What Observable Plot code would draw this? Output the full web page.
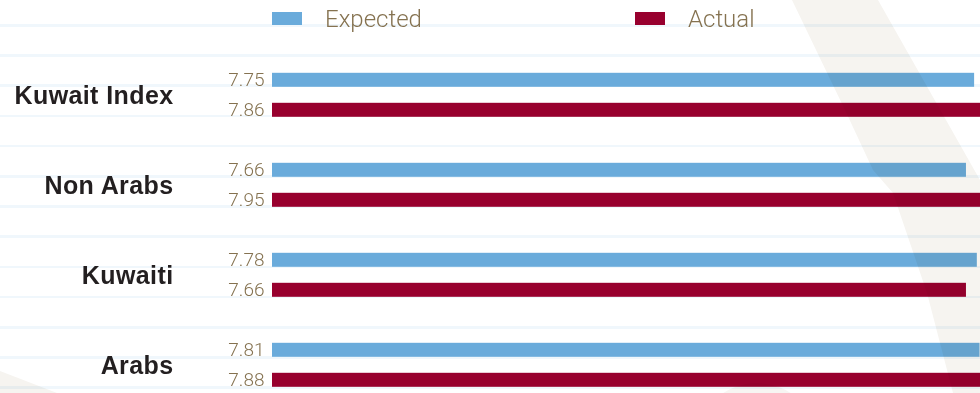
<!DOCTYPE html>
<html>
<head>
<meta charset="utf-8">
<script src="https://cdn.jsdelivr.net/npm/d3@7"></script>
<script src="https://cdn.jsdelivr.net/npm/@observablehq/plot@0.6"></script>
<style>
  html, body { margin: 0; padding: 0; background: #fff; }
  #wrap {
    position: relative; width: 980px; height: 393px; overflow: hidden;
    background-color: #fff;
    background-image: repeating-linear-gradient(to bottom,
      transparent 0px, transparent 24px, #f0f7fc 24px, #f0f7fc 26.5px, transparent 26.5px, transparent 30.2px);
  }
  #legend { position: relative; height: 40px; font-family: Roboto, "Liberation Sans", sans-serif; font-weight: 300; font-size: 24px; color: #857250; }
  #legend .sw { position: absolute; top: 12px; width: 30px; height: 13px; }
  #legend .lb { position: absolute; top: 5px; line-height: 28px; }
  #deco { position: absolute; left: 0; top: 0; pointer-events: none; mix-blend-mode: multiply; }
</style>
</head>
<body>
<div id="wrap">
  <div id="legend"></div>
  <div id="chart"></div>
  <svg id="deco" width="980" height="393">
    <polygon points="792,0 830,79 845,110 873,170 893,193 927,293 953,393 980,393 980,180 878,0" fill="#f6f4f0"/>
    <polygon points="0,371 57,393 0,393" fill="#f6f4f0"/>
    <circle cx="757" cy="445" r="62" fill="#f7f5f2"/>
  </svg>
</div>
<script>
const categories = ["Kuwait Index", "Non Arabs", "Kuwaiti", "Arabs"];
const series = ["Expected", "Actual"];
const expectedValues = [7.75, 7.66, 7.78, 7.81];
const actualValues = [7.86, 7.95, 7.66, 7.88];
const colors = ["#6aabdb", "#98002e"];

const data = categories.flatMap((c, i) => [
  {category: c, series: "Expected", value: expectedValues[i]},
  {category: c, series: "Actual", value: actualValues[i]}
]);

// legend
const legend = document.getElementById("legend");
const legendX = [272, 635];
series.forEach((s, i) => {
  const sw = document.createElement("div");
  sw.className = "sw"; sw.style.left = legendX[i] + "px"; sw.style.background = colors[i];
  legend.appendChild(sw);
  const lb = document.createElement("div");
  lb.className = "lb"; lb.style.left = (legendX[i] + 53) + "px"; lb.textContent = s;
  legend.appendChild(lb);
});

const chart = Plot.plot({
  width: 980,
  height: 353,
  marginLeft: 272,
  marginRight: 0,
  marginTop: 9.2,
  marginBottom: -18.6,
  style: {background: "transparent", overflow: "hidden"},
  x: {domain: [0, 7.815], axis: null},
  fy: {domain: categories, padding: 0, axis: null},
  y: {domain: series, paddingInner: 0.53, paddingOuter: 0.72, axis: null},
  color: {domain: series, range: colors},
  marks: [
    Plot.barX(data, {x: "value", y: "series", fy: "category", fill: "series", clip: true}),
    Plot.text(data, {
      y: "series", fy: "category", frameAnchor: "left", dx: -8, textAnchor: "end",
      text: d => d.value.toFixed(2), fill: "#857250", fontSize: 19,
      fontFamily: "Roboto, 'Liberation Sans', sans-serif", fontWeight: 300
    }),
    Plot.text(categories, {
      fy: d => d, text: d => d, frameAnchor: "left", dx: -99, textAnchor: "end",
      fill: "#231f20", fontSize: 25, fontWeight: "bold",
      fontFamily: "'Liberation Sans', Arial, sans-serif"
    })
  ]
});
d3.select(chart).selectAll("g[font-weight='bold']").style("letter-spacing", "0.4px");
document.getElementById("chart").appendChild(chart);
</script>
</body>
</html>
